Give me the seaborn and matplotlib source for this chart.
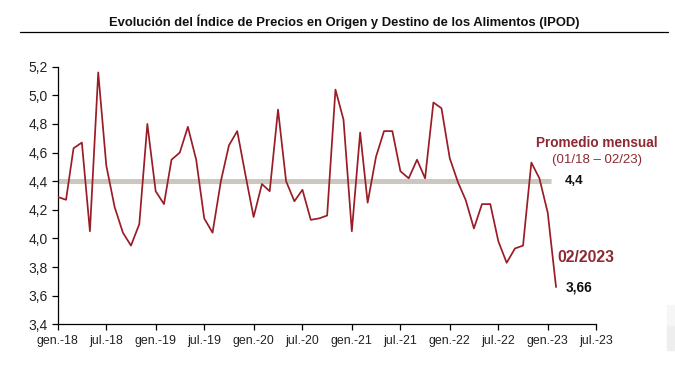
import matplotlib
matplotlib.use("Agg")
import matplotlib.pyplot as plt
from matplotlib.lines import Line2D
from matplotlib.patches import Rectangle
from matplotlib.ticker import FixedLocator, FuncFormatter
import pandas as pd
import seaborn as sns

# monthly IPOD ratio, Jan 2018 - Feb 2023
months = pd.date_range("2018-01-01", "2023-02-01", freq="MS")
ipod = [4.29, 4.27, 4.63, 4.67, 4.05, 5.16, 4.51, 4.22, 4.04, 3.95, 4.10, 4.80,
        4.33, 4.24, 4.55, 4.60, 4.78, 4.55, 4.14, 4.04, 4.40, 4.65, 4.75, 4.45,
        4.15, 4.38, 4.33, 4.90, 4.40, 4.26, 4.34, 4.13, 4.14, 4.16, 5.04, 4.83,
        4.05, 4.74, 4.25, 4.57, 4.75, 4.75, 4.47, 4.42, 4.55, 4.42, 4.95, 4.91,
        4.56, 4.39, 4.27, 4.07, 4.24, 4.24, 3.98, 3.83, 3.93, 3.95, 4.53, 4.42,
        4.18, 3.66]

mean_value = 4.4
mean_span = pd.to_datetime(["2018-01-01", "2023-01-15"])

tick_dates = pd.date_range("2018-01-01", "2023-07-01", freq="6MS")
tick_labels = ["gen.-18", "jul.-18", "gen.-19", "jul.-19", "gen.-20", "jul.-20",
               "gen.-21", "jul.-21", "gen.-22", "jul.-22", "gen.-23", "jul.-23"]
y_ticks = [3.4, 3.6, 3.8, 4.0, 4.2, 4.4, 4.6, 4.8, 5.0, 5.2]

line_red = "#9a1c26"
text_red = "#8c2a32"
band_grey = "#cdc8bf"

df = pd.DataFrame({"mes": months, "ipod": ipod})
mean_df = pd.DataFrame({"mes": mean_span, "ipod": [mean_value] * len(mean_span)})

sns.set_theme(style="white")
plt.rcParams["font.family"] = ["Liberation Sans", "DejaVu Sans"]

fig = plt.figure(figsize=(6.75, 3.76), dpi=100)
ax = fig.add_axes([0.0855, 0.1375, 0.7979, 0.6851])

sns.lineplot(data=mean_df, x="mes", y="ipod", ax=ax, color=band_grey,
             linewidth=3.6, solid_capstyle="butt", zorder=2)
sns.lineplot(data=df, x="mes", y="ipod", ax=ax, color=line_red,
             linewidth=1.25, zorder=3)

ax.set_xlim(tick_dates[0], tick_dates[-1])
ax.set_ylim(y_ticks[0], y_ticks[-1])
ax.xaxis.set_major_locator(FixedLocator(matplotlib.dates.date2num(tick_dates)))
ax.set_xticklabels(tick_labels)
ax.yaxis.set_major_locator(FixedLocator(y_ticks))
ax.yaxis.set_major_formatter(FuncFormatter(lambda v, p: f"{v:.1f}".replace(".", ",")))
ax.set_xlabel("")
ax.set_ylabel("")

for side in ["top", "right"]:
    ax.spines[side].set_visible(False)
for side in ["left", "bottom"]:
    ax.spines[side].set_color("black")
    ax.spines[side].set_linewidth(0.9)
ax.tick_params(axis="both", direction="out", length=4, width=0.9, color="black",
               bottom=True, left=True)
ax.tick_params(axis="y", labelsize=10, pad=3, labelcolor="#222222")
ax.tick_params(axis="x", labelsize=8.9, pad=4, labelcolor="#222222")

# title and rule under it
fig.text(0.5096, 1 - 22 / 376, "Evolución del Índice de Precios en Origen y Destino de los Alimentos (IPOD)",
         ha="center", va="center", fontsize=9.4, fontweight="bold", color="#111111")
fig.add_artist(Line2D([20 / 675, 668 / 675], [1 - 32 / 376] * 2, color="black", linewidth=0.9))

# annotations
fig.text(0.884, 1 - 143 / 376, "Promedio mensual", ha="center", va="center",
         fontsize=9.8, fontweight="bold", color=text_red)
fig.text(0.8845, 1 - 160 / 376, "(01/18 – 02/23)", ha="center", va="center",
         fontsize=9.5, color=text_red)
fig.text(565 / 675, 1 - 181 / 376, "4,4", ha="left", va="center",
         fontsize=9.5, fontweight="bold", color="#111111")
fig.text(557 / 675, 1 - 257 / 376, "02/2023", ha="left", va="center",
         fontsize=11.3, fontweight="bold", color=text_red)
fig.text(566 / 675, 1 - 287 / 376, "3,66", ha="left", va="center",
         fontsize=9.8, fontweight="bold", color="#111111")

# faint scan artefact at the lower right edge
fig.add_artist(Rectangle((667 / 675, 1 - 326 / 376), 8 / 675, 21 / 376,
                         transform=fig.transFigure, color="#f6f6f6", zorder=0))
fig.add_artist(Rectangle((667 / 675, 1 - 350 / 376), 8 / 675, 24 / 376,
                         transform=fig.transFigure, color="#eeeeee", zorder=0))

fig.savefig("out.png", dpi=100)
